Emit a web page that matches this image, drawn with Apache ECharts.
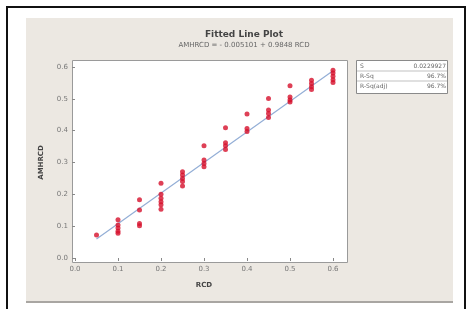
<!DOCTYPE html>
<html><head><meta charset="utf-8">
<script src="https://cdn.jsdelivr.net/npm/echarts@6/dist/echarts.min.js"></script>
<style>html,body{margin:0;padding:0;background:#fff}#c{width:468px;height:309px}</style>
</head><body><div id="c"></div>
<script>
var titleText = 'Fitted Line Plot';
var subtitleText = 'AMHRCD = - 0.005101 + 0.9848 RCD';
var xName = 'RCD';
var yName = 'AMHRCD';
var xTicks = [0.0, 0.1, 0.2, 0.3, 0.4, 0.5, 0.6];
var yTicks = [0.0, 0.1, 0.2, 0.3, 0.4, 0.5, 0.6];
var statLabels = ['S', 'R-Sq', 'R-Sq(adj)'];
var statValues = ['0.0229927', '96.7%', '96.7%'];
var rcd = [0.05,
  0.1,0.1,0.1,0.1,0.1,
  0.15,0.15,0.15,0.15,
  0.2,0.2,0.2,0.2,0.2,0.2,
  0.25,0.25,0.25,0.25,0.25,
  0.3,0.3,0.3,0.3,
  0.35,0.35,0.35,0.35,
  0.4,0.4,0.4,
  0.45,0.45,0.45,0.45,
  0.5,0.5,0.5,0.5,
  0.55,0.55,0.55,0.55,
  0.6,0.6,0.6,0.6,0.6];
var amhrcd = [0.072,
  0.12,0.104,0.094,0.084,0.078,
  0.183,0.151,0.108,0.101,
  0.235,0.2,0.188,0.177,0.167,0.153,
  0.271,0.261,0.25,0.24,0.226,
  0.353,0.308,0.297,0.287,
  0.409,0.362,0.353,0.341,
  0.452,0.407,0.397,
  0.501,0.465,0.454,0.441,
  0.541,0.506,0.496,0.49,
  0.558,0.548,0.538,0.529,
  0.59,0.581,0.571,0.56,0.551];
var fitX = [0.05, 0.6];
var fitY = [0.060, 0.588];

var chart = echarts.init(document.getElementById('c'));
var pts = rcd.map(function(v,i){return [v, amhrcd[i]];});
var fit = fitX.map(function(v,i){return [v, fitY[i]];});
var lab = {fontFamily:'DejaVu Sans', fontSize:7, color:'#777'};
var statEls = [];
statLabels.forEach(function(s,i){
  statEls.push({type:'text', left:360, top:63+i*10, style:{text:s, font:'6px DejaVu Sans', fill:'#666'}});
  statEls.push({type:'text', right:22, top:63+i*10, style:{text:statValues[i], font:'6px DejaVu Sans', fill:'#666', textAlign:'right'}});
  if(i>0) statEls.push({type:'line', shape:{x1:357,y1:61+i*10,x2:447,y2:61+i*10}, style:{stroke:'#999',lineWidth:0.6}});
});
chart.setOption({
  animation:false,
  backgroundColor:'#ffffff',
  title:{text:titleText, subtext:subtitleText, left:239, top:25, textAlign:'center', itemGap:3,
    textStyle:{fontFamily:'DejaVu Sans', fontSize:9, fontWeight:'bold', color:'#444'},
    subtextStyle:{fontFamily:'DejaVu Sans', fontSize:7, color:'#666'}},
  graphic:[
    {type:'rect', z:-10, shape:{x:26,y:18,width:427,height:284}, style:{fill:'#ece8e2'}},
    {type:'line', z:-9, shape:{x1:26,y1:302,x2:453,y2:302}, style:{stroke:'#a9a6a2',lineWidth:2}},
    {type:'rect', z:-8, shape:{x:72.5,y:60.5,width:275,height:202}, style:{fill:'#ffffff', stroke:'#9a9a9a', lineWidth:1}},
    {type:'rect', z:-8, shape:{x:356.5,y:60.5,width:91,height:33}, style:{fill:'#ffffff', stroke:'#8a8a8a', lineWidth:1}},
    {type:'line', shape:{x1:6,y1:7,x2:465,y2:7}, style:{stroke:'#111',lineWidth:2}},
    {type:'line', shape:{x1:7,y1:6,x2:7,y2:309}, style:{stroke:'#111',lineWidth:2}},
    {type:'line', shape:{x1:465,y1:6,x2:465,y2:309}, style:{stroke:'#111',lineWidth:2}}
  ].concat(statEls),
  grid:{left:75, top:67, width:258, height:191},
  xAxis:{type:'value', min:xTicks[0], max:xTicks[xTicks.length-1], interval:0.1, offset:4,
    name:xName, nameLocation:'middle', nameGap:20,
    nameTextStyle:{fontFamily:'DejaVu Sans', fontSize:7, fontWeight:'bold', color:'#444'},
    axisLine:{show:false}, axisTick:{show:true, length:3, lineStyle:{color:'#888'}},
    splitLine:{show:false},
    axisLabel:Object.assign({margin:4, formatter:function(v){return v.toFixed(1);}}, lab)},
  yAxis:{type:'value', min:yTicks[0], max:yTicks[yTicks.length-1], interval:0.1, offset:3,
    name:yName, nameLocation:'middle', nameGap:27, nameRotate:90,
    nameTextStyle:{fontFamily:'DejaVu Sans', fontSize:7, fontWeight:'bold', color:'#444'},
    axisLine:{show:false}, axisTick:{show:true, length:3, lineStyle:{color:'#888'}},
    splitLine:{show:false},
    axisLabel:Object.assign({margin:4, formatter:function(v){return v.toFixed(1);}}, lab)},
  series:[
    {type:'line', data:fit, symbol:'none', lineStyle:{color:'#93aed6', width:1.2}, z:1},
    {type:'scatter', data:pts, symbol:'circle', symbolSize:5, itemStyle:{color:'#d6102c'}, z:2}
  ]
});
</script></body></html>
